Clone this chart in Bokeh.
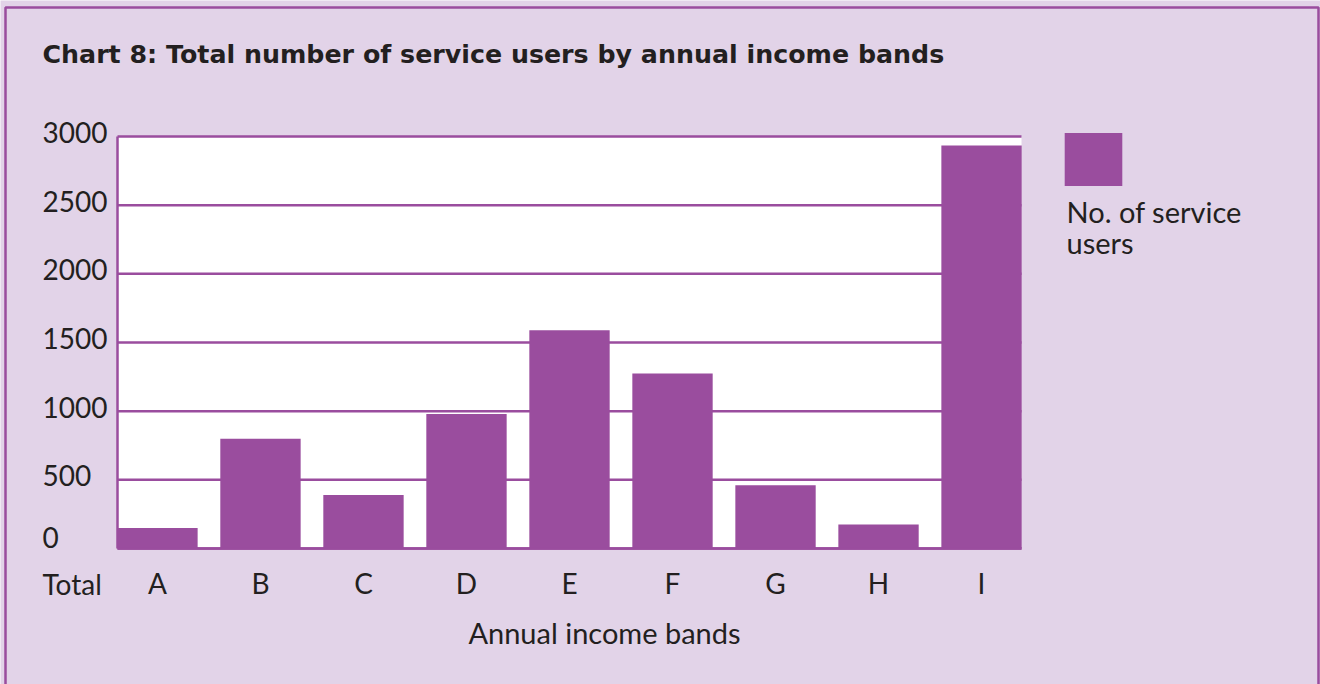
from bokeh.plotting import figure
from bokeh.models import (Range1d, FixedTicker, Label, Legend, LegendItem, BoxAnnotation,
                          LinearAxis)
from bokeh.embed import file_html
from bokeh.resources import INLINE

# ---- data ----
categories = ["A", "B", "C", "D", "E", "F", "G", "H", "I"]
service_users = [150, 800, 390, 980, 1590, 1275, 460, 175, 2935]
y_ticks = [0, 500, 1000, 1500, 2000, 2500, 3000]
title_text = "Chart 8: Total number of service users by annual income bands"
x_title = "Annual income bands"
row_label = "Total"
legend_lines = ["No. of service", "users"]

PURPLE = "#9a4d9e"
LAVENDER = "#e2d3e8"
TEXT = "#231f20"
FONT = "Lato"

W, H = 1320, 684
PL, PR, PT, PB = 117, 1021, 136, 548  # white plot-area edges in pixels
PAD = 0.388                            # half slot outside first/last bar
YMAX = 3000

xs = list(range(len(categories)))
x_lo, x_hi = -PAD, len(categories) - 1 + PAD
xpx = (PR - PL) / (x_hi - x_lo)
ypx = (PB - PT) / YMAX
x_range = Range1d(x_lo - PL / xpx, x_hi + (W - PR) / xpx)
y_range = Range1d(0 - (H - PB) / ypx, YMAX + PT / ypx)

p = figure(width=W, height=H, output_backend="svg", toolbar_location=None,
           x_range=x_range, y_range=y_range, x_axis_type=None, y_axis_type=None,
           min_border=0, title=None)
p.background_fill_color = LAVENDER
p.border_fill_color = LAVENDER
p.outline_line_color = None
p.grid.visible = False

# white plot area
p.add_layout(BoxAnnotation(left=x_lo, right=x_hi, bottom=0, top=YMAX,
                           fill_color="white", fill_alpha=1, line_color=None,
                           level="underlay"))

# horizontal grid lines across plot area
p.segment(x0=[x_lo] * len(y_ticks), x1=[x_hi] * len(y_ticks), y0=y_ticks, y1=y_ticks,
          line_color=PURPLE, line_width=2.5)

bars = p.vbar(x=xs, top=service_users, width=0.78, fill_color=PURPLE, line_color=None)

# x axis fixed at y=0
xa = LinearAxis(fixed_location=0, bounds=(x_lo, x_hi), ticker=FixedTicker(ticks=xs),
                major_label_overrides={i: c for i, c in zip(xs, categories)})
xa.axis_line_color = PURPLE
xa.axis_line_width = 2.5
xa.major_tick_line_color = None
xa.minor_tick_line_color = None
xa.major_label_standoff = 11
xa.major_label_text_font = FONT
xa.major_label_text_font_size = "28px"
xa.major_label_text_color = TEXT
p.add_layout(xa, "below")

# y axis line fixed at left edge of plot area
ya = LinearAxis(fixed_location=x_lo, bounds=(0, YMAX), ticker=FixedTicker(ticks=[]))
ya.axis_line_color = PURPLE
ya.axis_line_width = 2.5
ya.major_tick_line_color = None
ya.minor_tick_line_color = None
ya.major_label_text_font_size = "0px"
p.add_layout(ya, "left")

LX = 42
for v in y_ticks:
    p.add_layout(Label(x=LX, x_units="screen", y=v, y_units="data", text=str(v),
                       text_font=FONT, text_font_size="28px", text_color=TEXT,
                       text_baseline="middle", text_align="left",
                       y_offset=11 if v == 0 else 4))

p.add_layout(Label(x=LX, x_units="screen", y=H - 583, y_units="screen", text=row_label,
                   text_font=FONT, text_font_size="28px", text_color=TEXT,
                   text_baseline="middle", text_align="left"))

p.add_layout(Label(x=604, x_units="screen", y=H - 632, y_units="screen", text=x_title,
                   text_font=FONT, text_font_size="29px", text_color=TEXT,
                   text_baseline="middle", text_align="center"))

p.add_layout(Label(x=LX, x_units="screen", y=H - 54, y_units="screen", text=title_text,
                   text_font="DejaVu Sans", text_font_size="25.3px", text_font_style="bold",
                   text_color=TEXT, text_baseline="middle", text_align="left"))

# legend square (legend glyph is inset by 10% of its box on each side)
GW, GH = 58 / 0.8, 53 / 0.8
legend = Legend(items=[LegendItem(label=" ", renderers=[bars])],
                location=(1064 - 0.1 * GW, H - 185 - 0.1 * GH), padding=0, margin=0, spacing=0,
                glyph_width=round(GW), glyph_height=round(GH), label_standoff=0, label_width=0,
                border_line_color=None, background_fill_alpha=0)
p.add_layout(legend)

for t, cy in zip(legend_lines, [211, 242]):
    p.add_layout(Label(x=1066, x_units="screen", y=H - cy, y_units="screen", text=t,
                       text_font=FONT, text_font_size="29px", text_color=TEXT,
                       text_baseline="middle", text_align="left"))

# outer frame border
p.add_layout(BoxAnnotation(left=5, right=1318, top=H - 7, bottom=-50,
                           left_units="screen", right_units="screen",
                           top_units="screen", bottom_units="screen",
                           fill_color=None, fill_alpha=0, line_color=PURPLE,
                           line_alpha=1, line_width=2.5))

open("out.html", "w").write(file_html(p, INLINE))
